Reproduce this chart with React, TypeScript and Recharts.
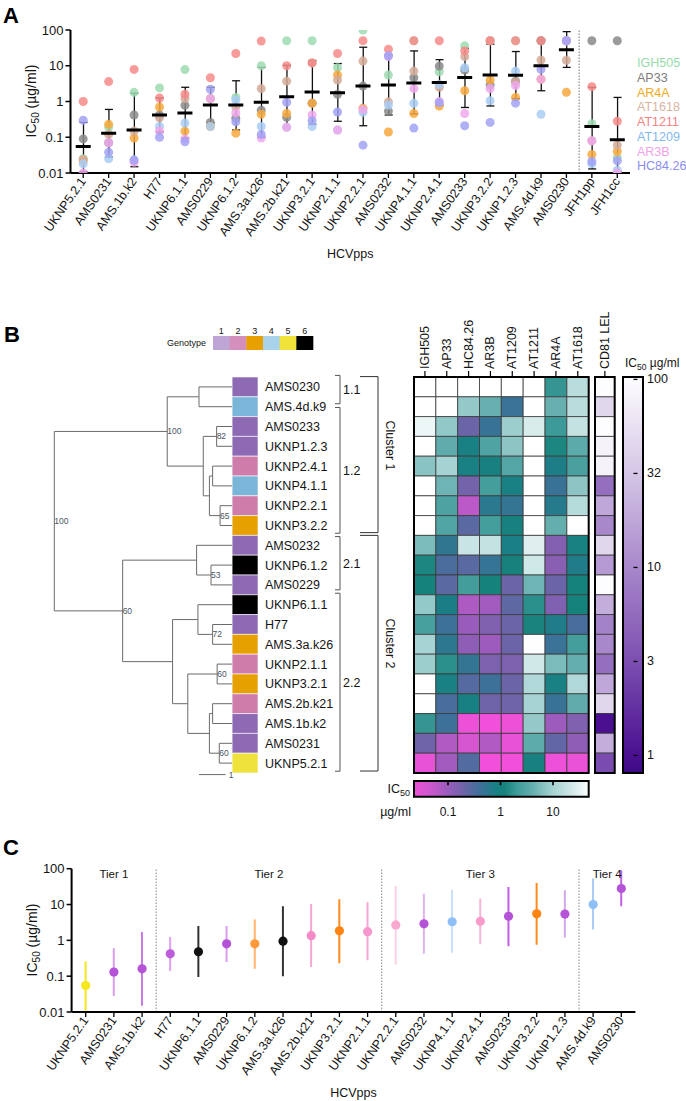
import React from 'react';
import {
  Bar,
  Cell,
  ComposedChart,
  Label,
  ReferenceArea,
  ReferenceDot,
  ReferenceLine,
  Scatter,
  XAxis,
  YAxis,
} from 'recharts';

const FONT = 'Arial, "Liberation Sans", Helvetica, sans-serif';
const INK = '#141414';

// ---------- panels A and C ----------
const hcvpps = [
  'UKNP5.2.1', 'AMS0231', 'AMS.1b.k2', 'H77', 'UKNP6.1.1', 'AMS0229', 'UKNP6.1.2', 'AMS.3a.k26',
  'AMS.2b.k21', 'UKNP3.2.1', 'UKNP2.1.1', 'UKNP2.2.1', 'AMS0232', 'UKNP4.1.1', 'UKNP2.4.1', 'AMS0233',
  'UKNP3.2.2', 'UKNP1.2.3', 'AMS.4d.k9', 'AMS0230', 'JFH1pp', 'JFH1cc',
];

const mAbs = ['IGH505', 'AP33', 'AR4A', 'AT1618', 'AT1211', 'AT1209', 'AR3B', 'HC84.26'];
const mAbDotColors = ['#9fdcb2', '#8a8a8a', '#f7a83c', '#d4aa98', '#f78a8a', '#a9cdf4', '#f0a8ec', '#a2a2f4'];
const mAbTextColors = ['#96dcab', '#7d7d7d', '#f0ac1e', '#d8b4a2', '#f58282', '#82b8ef', '#f2a2e8', '#8a8cf0'];

// IC50 in µg/ml, one value per HCVpp (order of hcvpps)
const igh505 = [0.025, 0.19, 1.8, 2.4, 7.8, 1.2, 1.3, 10, 50, 50, 8.8, 100, 5.5, 50, 6.8, 36, 50, 50, 50, 50, 0.24, 0.027];
const ap33 = [0.09, 0.07, 0.42, 0.42, 0.78, 0.26, 0.34, 0.57, 0.36, 0.9, 1.6, 2.7, 0.54, 4.6, 9.8, 7.6, 2.9, 3.7, 50, 50, 50, 50];
const ar4a = [0.022, 0.23, 0.095, 0.7, 0.148, 0.2, 0.13, 0.44, 0.46, 0.9, 5.5, 0.65, 0.14, 0.46, 0.75, 2.0, 4.0, 1.3, 4.2, 1.8, 0.033, 0.04];
const at1618 = [0.024, 0.12, 0.15, 0.35, 1.2, 1.2, 0.7, 2.3, 3.7, 12, 4, 13.5, 0.98, 7.1, 2.5, 18, 50, 3.5, 14.5, 14.3, 0.08, 0.06];
const at1211 = [1.0, 3.6, 7.9, 1.25, 1.6, 4.6, 22, 49, 10, 12, 22, 50, 29, 50, 50, 26, 50, 50, 50, 50, 2.6, 0.28];
const at1209 = [0.018, 0.025, 0.023, 0.2, 0.25, 0.2, 1.1, 0.2, 0.19, 0.2, 0.16, 0.5, 0.8, 0.89, 3.0, 8.8, 1.05, 7.1, 0.44, 50, 0.018, 0.012];
const ar3b = [0.01, 0.07, 0.02, 0.15, 0.09, 1.2, 0.48, 0.095, 0.19, 0.42, 0.16, 0.6, 18, 2.3, 1.0, 0.46, 2.3, 2.8, 4.2, 50, 0.08, 0.01];
const hc8426 = [0.3, 0.038, 0.023, 0.1, 0.075, 2.2, 0.27, 0.12, 0.95, 0.29, 0.51, 0.06, 19, 0.18, 0.92, 0.21, 0.26, 0.9, 7.9, 50, 0.021, 0.022];

const ic50ByMab: Record<string, number[]> = {
  IGH505: igh505, AP33: ap33, AR4A: ar4a, AT1618: at1618,
  AT1211: at1211, AT1209: at1209, AR3B: ar3b, 'HC84.26': hc8426,
};

// mean and spread per HCVpp
const meanIC50 = [0.055, 0.13, 0.16, 0.42, 0.48, 0.8, 0.8, 0.95, 1.35, 1.85, 1.75, 2.7, 2.9, 3.3, 3.4, 4.7, 5.5, 5.4, 10, 28, 0.2, 0.085];
const lowIC50 = [0.011, 0.028, 0.015, 0.14, 0.095, 0.25, 0.16, 0.1, 0.18, 0.23, 0.28, 0.21, 0.42, 0.45, 0.78, 0.68, 0.75, 1.2, 2.0, 9, 0.013, 0.011];
const highIC50 = [0.26, 0.6, 1.7, 1.25, 2.5, 2.5, 3.8, 9, 10.3, 14, 11.5, 33, 20, 26, 14.8, 31, 40, 25, 53, 90, 2.5, 1.3];

const logTicks = [0.01, 0.1, 1, 10, 100];
const controlsStart = 'JFH1pp';

const tierDotColors = [
  '#f4e81c', '#b452d8', '#b452d8', '#bc5cdc', '#111111', '#b452d8', '#ff9a3c', '#111111', '#f48ac8', '#ff8411',
  '#f596cc', '#f9a8d0', '#b452d8', '#8ec0f7', '#f89ccb', '#b452d8', '#ff8411', '#b452d8', '#8ec0f7', '#b452d8',
];
const tierBarColors = [
  '#f4e81c', '#d99cf0', '#c77be6', '#dfa0ef', '#333333', '#d99cf0', '#ffb36b', '#333333', '#f6a6d3', '#ff8a1e',
  '#f6a6d3', '#fcd0e6', '#deb4ee', '#c8dffb', '#f8b4d6', '#c35ee0', '#ff8a1e', '#d4a6ea', '#a9cdf6', '#c060e0',
];
const tiers = [
  { label: 'Tier 1', from: 'UKNP5.2.1', to: 'AMS.1b.k2' },
  { label: 'Tier 2', from: 'H77', to: 'UKNP2.1.1' },
  { label: 'Tier 3', from: 'UKNP2.2.1', to: 'UKNP1.2.3' },
  { label: 'Tier 4', from: 'AMS.4d.k9', to: 'AMS0230' },
];

// ---------- panel B ----------
const leafNames = [
  'AMS0230', 'AMS.4d.k9', 'AMS0233', 'UKNP1.2.3', 'UKNP2.4.1', 'UKNP4.1.1', 'UKNP2.2.1', 'UKNP3.2.2',
  'AMS0232', 'UKNP6.1.2', 'AMS0229', 'UKNP6.1.1', 'H77', 'AMS.3a.k26', 'UKNP2.1.1', 'UKNP3.2.1',
  'AMS.2b.k21', 'AMS.1b.k2', 'AMS0231', 'UKNP5.2.1',
];
const leafGenotype = [1, 4, 1, 1, 2, 4, 2, 3, 1, 6, 1, 6, 1, 3, 2, 3, 2, 1, 1, 5];
const genotypeLabels = ['1', '2', '3', '4', '5', '6'];
const genotypeColors = ['#8e6ab5', '#ce7daa', '#e6a000', '#7ab6d8', '#f0e23c', '#000000'];
const genotypeKeyColors = ['#bfa5d6', '#d48fbd', '#e8a000', '#a9d3ea', '#f2e33a', '#000000'];

// tree: branch depth (scale bar = 1), children are leaves (L#) or nodes
const tipDepth = 6.66;
const genotypeColEnd = 7.63;
const treeNodes = [
  { id: 'n11', x: 5.42, kids: ['L0', 'L1'] },
  { id: 'n82', x: 6.08, kids: ['L2', 'L3'], boot: '82' },
  { id: 'nA', x: 5.93, kids: ['L4', 'L5'] },
  { id: 'n65', x: 6.21, kids: ['L6', 'L7'], boot: '65' },
  { id: 'nC', x: 5.81, kids: ['nA', 'n65'] },
  { id: 'n12', x: 5.58, kids: ['n82', 'nC'] },
  { id: 'nCl1', x: 4.23, kids: ['n11', 'n12'], boot: '100' },
  { id: 'n53', x: 5.87, kids: ['L9', 'L10'], boot: '53' },
  { id: 'n21', x: 5.33, kids: ['L8', 'n53'] },
  { id: 'n72', x: 5.93, kids: ['L12', 'L13'], boot: '72' },
  { id: 'nD', x: 5.38, kids: ['L11', 'n72'] },
  { id: 'n60a', x: 6.1, kids: ['L14', 'L15'], boot: '60' },
  { id: 'nE', x: 5.93, kids: ['L16', 'L17'] },
  { id: 'n60b', x: 6.18, kids: ['L18', 'L19'], boot: '60' },
  { id: 'nF', x: 5.81, kids: ['nE', 'n60b'] },
  { id: 'nG', x: 5.0, kids: ['n60a', 'nF'] },
  { id: 'n22', x: 4.43, kids: ['nD', 'nG'] },
  { id: 'nCl2', x: 2.56, kids: ['n21', 'n22'], boot: '60' },
  { id: 'root', x: 0, kids: ['nCl1', 'nCl2'], boot: '100' },
];
const scaleBar = { from: 5.42, to: 6.42, row: 19.58 };

const subClusters = [
  { label: '1.1', from: -0.58, to: 0.85 },
  { label: '1.2', from: 1.04, to: 7.39 },
  { label: '2.1', from: 7.56, to: 10.25 },
  { label: '2.2', from: 10.42, to: 19.41 },
];
const mainClusters = [
  { label: 'Cluster 1', from: -0.52, to: 7.36, at: 2.96 },
  { label: 'Cluster 2', from: 7.5, to: 19.4, at: 12.96 },
];

const heatCols = ['IGH505', 'AP33', 'HC84.26', 'AR3B', 'AT1209', 'AT1211', 'AR4A', 'AT1618'];
const cd81Lel = [100, 45, 100, 80, 80, 6, 18, 10, 45, 14, 100, 20, 9, 10, 6, 18, 45, 1, 20, 3];

const tealStops = [0.02, 0.05, 0.1, 0.2, 0.4, 0.8, 1.2, 2, 4, 10, 25, 50];
const tealColors = ['#f250da', '#c858cc', '#9a5cbc', '#6c64a8', '#40709a', '#1a7f86', '#16827c', '#3c9a98', '#64aeae', '#a6d3d3', '#d6ebeb', '#ffffff'];
const tealBarDomain = [0.0225, 47.9];
const tealBarTicks = [0.1, 1, 10];

const purpleStops = [0.8, 1, 3.162, 10, 31.62, 100];
const purpleColors = ['#3c0a82', '#4a1090', '#7c4fb0', '#a887cb', '#d5c6e6', '#fdfcfe'];
const purpleDomain = [0.807, 103];
const purpleTicks = [1, 3.162, 10, 31.62, 100];

// ---------- helpers ----------
const hex = (h: string) => [1, 3, 5].map((i) => parseInt(h.slice(i, i + 2), 16));
function logColor(v: number, stops: number[], colors: string[]) {
  if (v <= stops[0]) return colors[0];
  if (v >= stops[stops.length - 1]) return colors[colors.length - 1];
  let i = 0;
  while (v > stops[i + 1]) i++;
  const t = (Math.log10(v) - Math.log10(stops[i])) / (Math.log10(stops[i + 1]) - Math.log10(stops[i]));
  const a = hex(colors[i]);
  const b = hex(colors[i + 1]);
  const c = a.map((av, k) => Math.round(av + (b[k] - av) * t));
  return `rgb(${c[0]},${c[1]},${c[2]})`;
}
const tealColor = (v: number) => logColor(v, tealStops, tealColors);
const purpleColor = (v: number) => logColor(v, purpleStops, purpleColors);
const logPos = (v: number, [lo, hi]: number[]) =>
  Math.min(1, Math.max(0, (Math.log10(v) - Math.log10(lo)) / (Math.log10(hi) - Math.log10(lo))));

const panelARows = hcvpps.map((name, i) => {
  const row: Record<string, any> = { name, mean: meanIC50[i], range: [lowIC50[i], highIC50[i]] };
  mAbs.forEach((m, k) => {
    row[`m${k}`] = ic50ByMab[m][i];
  });
  return row;
});

const panelCRows = hcvpps.slice(0, 20).map((name, i) => ({
  name,
  mean: meanIC50[i],
  range: [lowIC50[i], highIC50[i]],
  dot: tierDotColors[i],
  bar: tierBarColors[i],
}));

const nodePos: Record<string, { x: number; y: number }> = {};
leafNames.forEach((_, i) => {
  nodePos[`L${i}`] = { x: tipDepth, y: i };
});
const treeSegments: { x1: number; y1: number; x2: number; y2: number }[] = [];
treeNodes.forEach((n) => {
  const kids = n.kids.map((k) => nodePos[k]);
  nodePos[n.id] = { x: n.x, y: (kids[0].y + kids[1].y) / 2 };
  treeSegments.push({ x1: n.x, y1: kids[0].y, x2: n.x, y2: kids[1].y });
  kids.forEach((k) => treeSegments.push({ x1: n.x, y1: k.y, x2: k.x, y2: k.y }));
});
const leafPoints = leafNames.map((_, i) => ({ x: tipDepth, y: i }));
const bracketPoints = leafNames.map((_, i) => ({ x: 330, y: i }));

const heatCells = leafNames.flatMap((name, row) =>
  heatCols.map((mab, col) => {
    const v = ic50ByMab[mab][hcvpps.indexOf(name)];
    return { row, col, v, color: tealColor(v) };
  }),
);
const cd81Cells = cd81Lel.map((v, row) => ({ row, col: 0, v, color: purpleColor(v) }));

// ---------- small renderers ----------
const Empty = () => <g />;

const AngledTick = (props: any) => {
  const { x, y, payload } = props;
  return (
    <text x={x} y={y} dy={4} textAnchor="end" transform={`rotate(-55 ${x} ${y})`} fontSize={12.5} fill={INK} fontFamily={FONT}>
      {payload.value}
    </text>
  );
};

const ErrorShape = (props: any) => {
  const { x, y, width, height } = props;
  const cx = x + width / 2;
  const top = Math.min(y, y + height);
  const bot = Math.max(y, y + height);
  return (
    <g stroke="#111" strokeWidth={1.3}>
      <line x1={cx} x2={cx} y1={top} y2={bot} />
      <line x1={cx - 4} x2={cx + 4} y1={top} y2={top} />
      <line x1={cx - 4} x2={cx + 4} y1={bot} y2={bot} />
    </g>
  );
};

const MeanShape = (props: any) => (
  <line x1={props.cx - 7.5} x2={props.cx + 7.5} y1={props.cy} y2={props.cy} stroke="#000" strokeWidth={3} />
);

const dotShape = (color: string) => (props: any) => (
  <circle cx={props.cx} cy={props.cy} r={4.5} fill={color} fillOpacity={0.85} />
);

const TierBarShape = (props: any) => {
  const { x, y, width, height, payload } = props;
  const cx = x + width / 2;
  return (
    <line x1={cx} x2={cx} y1={Math.min(y, y + height)} y2={Math.max(y, y + height)} stroke={payload.bar} strokeWidth={2} />
  );
};

const TierDotShape = (props: any) => <circle cx={props.cx} cy={props.cy} r={4.6} fill={props.payload.dot} />;

const topLabelTick = (labels: string[]) => (props: any) => {
  const { x, y, payload } = props;
  return (
    <text x={x} y={y} transform={`rotate(-90 ${x} ${y})`} textAnchor="start" dominantBaseline="central" fontSize={12.5} fill={INK} fontFamily={FONT}>
      {labels[payload.value]}
    </text>
  );
};

const PurpleTick = (props: any) => {
  const { x, y, payload } = props;
  return (
    <g>
      <line x1={x - 9.5} x2={x - 5.5} y1={y} y2={y} stroke="#000" strokeWidth={1.3} />
      <text x={x + 4} y={y} dominantBaseline="central" fontSize={12.5} fill={INK} fontFamily={FONT}>
        {Math.round(payload.value)}
      </text>
    </g>
  );
};

const TealTick = (props: any) => {
  const { x, y, payload } = props;
  return (
    <g>
      <line x1={x} x2={x} y1={y - 15.7} y2={y - 11.5} stroke="#000" strokeWidth={1.6} />
      <text x={x} y={y + 15} textAnchor="middle" dominantBaseline="central" fontSize={12} fill={INK} fontFamily={FONT}>
        {payload.value}
      </text>
    </g>
  );
};

const Ic50AxisTitle = ({ x, y }: { x: number; y: number }) => (
  <text transform={`translate(${x},${y}) rotate(-90)`} textAnchor="middle" fontSize={14} fill={INK}>
    IC<tspan fontSize={10} dy={3}>50</tspan>
    <tspan dy={-3}> (µg/ml)</tspan>
  </text>
);

const logAxisProps = {
  type: 'number' as const,
  scale: 'log' as const,
  domain: [0.01, 100],
  ticks: logTicks,
  allowDataOverflow: true,
  interval: 0,
  tickSize: 5,
  tickMargin: 2,
  tickFormatter: (v: number) => String(v),
  tick: { fontSize: 13, fill: INK },
  axisLine: { stroke: '#000', strokeWidth: 2 },
  tickLine: { stroke: '#000', strokeWidth: 1.5 },
};

const abs = (left: number, top: number): React.CSSProperties => ({ position: 'absolute', left, top });

export default function App() {
  const tealGradStops = [tealBarDomain[0], ...tealStops.filter((s) => s > tealBarDomain[0] && s < tealBarDomain[1]), tealBarDomain[1]];
  const purpleGradStops = [purpleDomain[1], ...purpleStops.filter((s) => s > purpleDomain[0] && s < purpleDomain[1]).reverse(), purpleDomain[0]];

  return (
    <div style={{ position: 'absolute', left: 0, top: 0, width: 686, height: 1101, overflow: 'hidden', background: '#fff', fontFamily: FONT }}>
      {/* Panel A */}
      <div style={abs(0, 0)}>
        <ComposedChart width={686} height={262} data={panelARows} margin={{ top: 30, right: 56, bottom: 0, left: 0 }}>
          <XAxis
            dataKey="name"
            interval={0}
            height={89}
            tickSize={5}
            tickMargin={1}
            tick={<AngledTick />}
            axisLine={{ stroke: '#000', strokeWidth: 2 }}
            tickLine={{ stroke: '#000', strokeWidth: 1.3 }}
          >
            <Label value="HCVpps" position="insideBottom" offset={4} style={{ fontSize: 12.5, fill: INK }} />
          </XAxis>
          <YAxis width={70.5} {...logAxisProps} />
          <ReferenceLine x={controlsStart} position="start" stroke="#777" strokeDasharray="1.5 1.5" strokeWidth={1} />
          {mAbs.map((m, k) => (
            <Scatter key={m} dataKey={`m${k}`} shape={dotShape(mAbDotColors[k])} isAnimationActive={false} />
          ))}
          <Bar dataKey="range" barSize={8} shape={ErrorShape} isAnimationActive={false} />
          <Scatter dataKey="mean" shape={MeanShape} isAnimationActive={false} />
        </ComposedChart>
      </div>

      {/* Panel B: genotype key */}
      <div style={abs(150, 320)}>
        <ComposedChart width={170} height={32} data={genotypeLabels.map((g) => ({ g, v: 1 }))} margin={{ top: 2, right: 7, bottom: 2, left: 63 }} barCategoryGap={0}>
          <XAxis dataKey="g" orientation="top" height={14} tickSize={0} tickMargin={2} tickLine={false} axisLine={false} tick={{ fontSize: 9, fill: INK }} interval={0} />
          <YAxis hide domain={[0, 1]} />
          <Bar dataKey="v" isAnimationActive={false}>
            {genotypeLabels.map((g, i) => (
              <Cell key={g} fill={genotypeKeyColors[i]} />
            ))}
          </Bar>
        </ComposedChart>
      </div>

      {/* Panel B: dendrogram + genotype column */}
      <div style={abs(0, 356.5)}>
        <ComposedChart width={338} height={426} data={leafPoints} margin={{ top: 20, right: 0, bottom: 10, left: 54.3 }}>
          <XAxis type="number" dataKey="x" domain={[0, genotypeColEnd]} hide />
          <YAxis
            type="number"
            dataKey="y"
            domain={[-0.5, 19.5]}
            reversed
            orientation="right"
            width={80}
            ticks={leafNames.map((_, i) => i)}
            interval={0}
            tickFormatter={(i: number) => leafNames[i]}
            tickSize={5}
            tickMargin={2}
            tickLine={false}
            axisLine={false}
            tick={{ fontSize: 12.5, fill: INK }}
          />
          <Scatter dataKey="y" shape={Empty} isAnimationActive={false} />
          {leafNames.map((n, i) => (
            <ReferenceArea
              key={n}
              x1={tipDepth}
              x2={genotypeColEnd}
              y1={i - 0.5}
              y2={i + 0.5}
              fill={genotypeColors[leafGenotype[i] - 1]}
              fillOpacity={1}
              stroke="#ffffff"
              strokeWidth={0.6}
            />
          ))}
          {treeSegments.map((s, i) => (
            <ReferenceLine
              key={i}
              segment={[{ x: s.x1, y: s.y1 }, { x: s.x2, y: s.y2 }]}
              stroke="#6b6b6b"
              strokeWidth={1}
              ifOverflow="visible"
            />
          ))}
          {treeNodes
            .filter((n) => n.boot)
            .map((n) => (
              <ReferenceDot
                key={n.id}
                x={nodePos[n.id].x}
                y={nodePos[n.id].y}
                r={0.01}
                fill="none"
                stroke="none"
                ifOverflow="visible"
                label={{ value: n.boot, position: 'right', offset: 0, fontSize: 8.5, fill: '#4a5563' }}
              />
            ))}
          <ReferenceLine
            segment={[{ x: scaleBar.from, y: scaleBar.row }, { x: scaleBar.to, y: scaleBar.row }]}
            stroke="#6b6b6b"
            strokeWidth={1}
            ifOverflow="visible"
          />
          <ReferenceDot
            x={scaleBar.to}
            y={scaleBar.row}
            r={0.01}
            fill="none"
            stroke="none"
            ifOverflow="visible"
            label={{ value: '1', position: 'right', offset: 3, fontSize: 8.5, fill: '#4a5563' }}
          />
        </ComposedChart>
      </div>

      {/* Panel B: cluster brackets */}
      <div style={abs(320, 356.5)}>
        <ComposedChart width={100} height={426} data={bracketPoints} margin={{ top: 20, right: 0, bottom: 10, left: 0 }}>
          <XAxis type="number" dataKey="x" domain={[320, 420]} allowDataOverflow hide />
          <YAxis type="number" dataKey="y" domain={[-0.5, 19.5]} allowDataOverflow reversed hide />
          <Scatter dataKey="y" shape={Empty} isAnimationActive={false} />
          {subClusters.flatMap((c) => [
            <ReferenceLine key={`${c.label}v`} segment={[{ x: 340, y: c.from }, { x: 340, y: c.to }]} stroke="#555" ifOverflow="visible" />,
            <ReferenceLine key={`${c.label}t`} segment={[{ x: 335, y: c.from }, { x: 340, y: c.from }]} stroke="#555" ifOverflow="visible" />,
            <ReferenceLine key={`${c.label}b`} segment={[{ x: 335, y: c.to }, { x: 340, y: c.to }]} stroke="#555" ifOverflow="visible" />,
            <ReferenceDot
              key={`${c.label}l`}
              x={343}
              y={(c.from + c.to) / 2}
              r={0.01}
              fill="none"
              stroke="none"
              ifOverflow="visible"
              label={{ value: c.label, position: 'right', offset: 0, fontSize: 12.5, fill: INK }}
            />,
          ])}
          {mainClusters.flatMap((c) => [
            <ReferenceLine key={`${c.label}v`} segment={[{ x: 378, y: c.from }, { x: 378, y: c.to }]} stroke="#333" ifOverflow="visible" />,
            <ReferenceLine key={`${c.label}t`} segment={[{ x: 360, y: c.from }, { x: 378, y: c.from }]} stroke="#333" ifOverflow="visible" />,
            <ReferenceLine key={`${c.label}b`} segment={[{ x: 360, y: c.to }, { x: 378, y: c.to }]} stroke="#333" ifOverflow="visible" />,
            <ReferenceDot
              key={`${c.label}l`}
              x={390}
              y={c.at}
              r={0.01}
              fill="none"
              stroke="none"
              ifOverflow="visible"
              label={{ value: c.label, position: 'center', angle: 90, fontSize: 12.5, fill: INK }}
            />,
          ])}
        </ComposedChart>
      </div>

      {/* Panel B: heatmap */}
      <div style={abs(404.3, 296.5)}>
        <ComposedChart width={189.7} height={486} data={heatCells} margin={{ top: 0, right: 5, bottom: 10, left: 10 }}>
          <XAxis
            type="number"
            dataKey="col"
            orientation="top"
            domain={[-0.5, 7.5]}
            ticks={heatCols.map((_, i) => i)}
            interval={0}
            height={80}
            tickSize={6}
            tickMargin={2}
            axisLine={false}
            tickLine={{ stroke: '#000', strokeWidth: 1.2 }}
            tick={topLabelTick(heatCols)}
          />
          <YAxis type="number" dataKey="row" domain={[-0.5, 19.5]} reversed hide />
          <Scatter dataKey="row" shape={Empty} isAnimationActive={false} />
          {heatCells.map((c) => (
            <ReferenceArea
              key={`${c.row}-${c.col}`}
              x1={c.col - 0.5}
              x2={c.col + 0.5}
              y1={c.row - 0.5}
              y2={c.row + 0.5}
              fill={c.color}
              fillOpacity={1}
              stroke="#3a3a3a"
              strokeWidth={0.8}
            />
          ))}
          <ReferenceArea x1={-0.5} x2={7.5} y1={-0.5} y2={19.5} fill="none" fillOpacity={0} stroke="#000" strokeWidth={2} />
        </ComposedChart>
      </div>

      {/* Panel B: CD81 LEL column */}
      <div style={abs(585.3, 296.5)}>
        <ComposedChart width={34.7} height={486} data={cd81Cells} margin={{ top: 0, right: 5, bottom: 10, left: 10 }}>
          <XAxis
            type="number"
            dataKey="col"
            orientation="top"
            domain={[-0.5, 0.5]}
            ticks={[0]}
            interval={0}
            height={80}
            tickSize={6}
            tickMargin={2}
            axisLine={false}
            tickLine={{ stroke: '#000', strokeWidth: 1.2 }}
            tick={topLabelTick(['CD81 LEL'])}
          />
          <YAxis type="number" dataKey="row" domain={[-0.5, 19.5]} reversed hide />
          <Scatter dataKey="row" shape={Empty} isAnimationActive={false} />
          {cd81Cells.map((c) => (
            <ReferenceArea
              key={c.row}
              x1={-0.5}
              x2={0.5}
              y1={c.row - 0.5}
              y2={c.row + 0.5}
              fill={c.color}
              fillOpacity={1}
              stroke="#3a3a3a"
              strokeWidth={0.8}
            />
          ))}
          <ReferenceArea x1={-0.5} x2={0.5} y1={-0.5} y2={19.5} fill="none" fillOpacity={0} stroke="#000" strokeWidth={2} />
        </ComposedChart>
      </div>

      {/* Panel B: CD81 colour bar */}
      <div style={abs(612.7, 356.5)}>
        <ComposedChart width={70} height={426} data={purpleStops.map((v) => ({ x: 0.5, v }))} margin={{ top: 20, right: 0, bottom: 10, left: 10 }}>
          <defs>
            <linearGradient id="purpleGrad" x1="0" y1="0" x2="0" y2="1">
              {purpleGradStops.map((v) => (
                <stop key={v} offset={1 - logPos(v, purpleDomain)} stopColor={purpleColor(v)} />
              ))}
            </linearGradient>
          </defs>
          <XAxis type="number" dataKey="x" domain={[0, 1]} hide />
          <YAxis
            type="number"
            dataKey="v"
            scale="log"
            domain={purpleDomain}
            allowDataOverflow
            orientation="right"
            width={40}
            ticks={purpleTicks}
            interval={0}
            tickSize={0}
            tickMargin={0}
            tickLine={false}
            axisLine={false}
            tick={<PurpleTick />}
          />
          <Scatter dataKey="v" shape={Empty} isAnimationActive={false} />
          <ReferenceArea x1={0} x2={1} y1={purpleDomain[0]} y2={purpleDomain[1]} fill="url(#purpleGrad)" fillOpacity={1} stroke="#000" strokeWidth={2} />
        </ComposedChart>
      </div>

      {/* Panel B: IC50 colour bar */}
      <div style={abs(404.3, 771)}>
        <ComposedChart width={189.7} height={60} data={tealBarTicks.map((v) => ({ v, y: 0.5 }))} margin={{ top: 10, right: 5, bottom: 0, left: 10 }}>
          <defs>
            <linearGradient id="tealGrad" x1="0" y1="0" x2="1" y2="0">
              {tealGradStops.map((v) => (
                <stop key={v} offset={logPos(v, tealBarDomain)} stopColor={tealColor(v)} />
              ))}
            </linearGradient>
          </defs>
          <XAxis
            type="number"
            dataKey="v"
            scale="log"
            domain={tealBarDomain}
            allowDataOverflow
            ticks={tealBarTicks}
            interval={0}
            height={34.3}
            tickSize={0}
            tickMargin={0}
            tickLine={false}
            axisLine={false}
            tick={<TealTick />}
          />
          <YAxis type="number" dataKey="y" domain={[0, 1]} hide />
          <Scatter dataKey="y" shape={Empty} isAnimationActive={false} />
          <ReferenceArea x1={tealBarDomain[0]} x2={tealBarDomain[1]} y1={0} y2={1} fill="url(#tealGrad)" fillOpacity={1} stroke="#000" strokeWidth={2} />
        </ComposedChart>
      </div>

      {/* Panel C */}
      <div style={abs(0, 840)}>
        <ComposedChart width={686} height={261} data={panelCRows} margin={{ top: 28.7, right: 50.6, bottom: 0, left: 0 }}>
          <XAxis
            dataKey="name"
            interval={0}
            height={89}
            tickSize={5}
            tickMargin={1}
            tick={<AngledTick />}
            axisLine={{ stroke: '#000', strokeWidth: 2 }}
            tickLine={{ stroke: '#000', strokeWidth: 1.3 }}
          >
            <Label value="HCVpps" position="insideBottom" offset={4} style={{ fontSize: 12.5, fill: INK }} />
          </XAxis>
          <YAxis width={71.6} {...logAxisProps} />
          {tiers.slice(1).map((t) => (
            <ReferenceLine key={t.from} x={t.from} position="start" stroke="#888" strokeDasharray="1.5 1.5" strokeWidth={1} />
          ))}
          {tiers.map((t) => (
            <ReferenceArea
              key={t.label}
              x1={t.from}
              x2={t.to}
              fill="none"
              fillOpacity={0}
              ifOverflow="visible"
              label={{ value: t.label, position: 'insideTop', offset: 1, fontSize: 11.5, fill: INK }}
            />
          ))}
          <Bar dataKey="range" barSize={6} shape={TierBarShape} isAnimationActive={false} />
          <Scatter dataKey="mean" shape={TierDotShape} isAnimationActive={false} />
        </ComposedChart>
      </div>

      {/* titles, letters and keys */}
      <svg width={686} height={1101} style={{ position: 'absolute', left: 0, top: 0, pointerEvents: 'none' }} fontFamily={FONT}>
        <text x={3} y={23} fontSize={22} fontWeight="bold" fill="#000">A</text>
        <text x={4} y={342} fontSize={22} fontWeight="bold" fill="#000">B</text>
        <text x={3} y={855} fontSize={22} fontWeight="bold" fill="#000">C</text>
        <Ic50AxisTitle x={36} y={101} />
        <Ic50AxisTitle x={37} y={940} />
        {mAbs.map((m, k) => (
          <text key={m} x={637} y={63.3 + k * 14.7} dominantBaseline="central" fontSize={12.5} fill={mAbTextColors[k]}>
            {m}
          </text>
        ))}
        <text x={206} y={343} textAnchor="end" dominantBaseline="central" fontSize={9} fill={INK}>Genotype</text>
        <text x={625} y={367} fontSize={12} fill={INK}>
          IC<tspan fontSize={8.5} dy={3}>50</tspan>
          <tspan dy={-3}> µg/ml</tspan>
        </text>
        <text x={410} y={793} textAnchor="end" fontSize={12.5} fill={INK}>
          IC<tspan fontSize={9} dy={3}>50</tspan>
        </text>
        <text x={411} y={816} textAnchor="end" fontSize={12.5} fill={INK}>µg/ml</text>
      </svg>
    </div>
  );
}
